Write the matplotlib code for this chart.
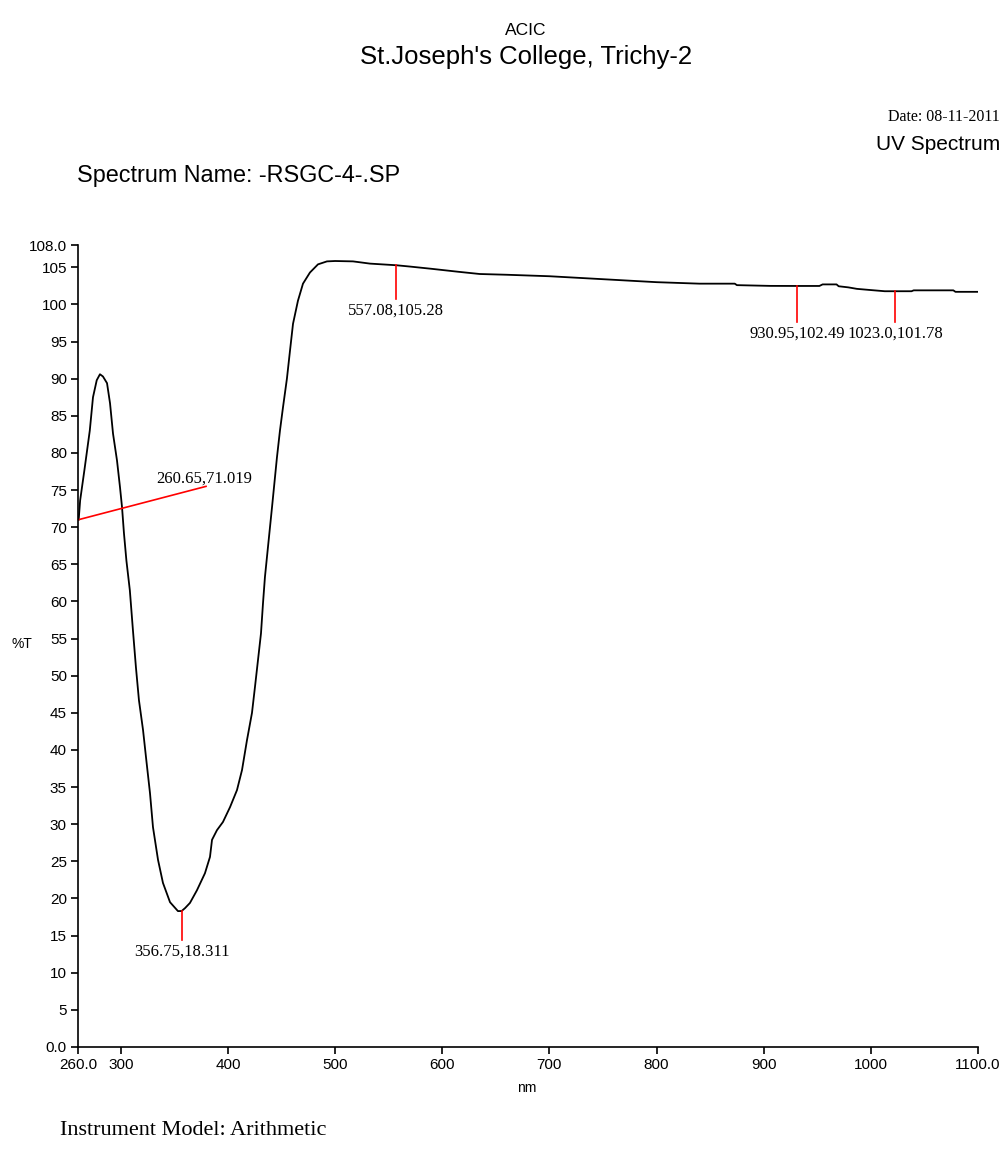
import matplotlib
matplotlib.use("Agg")
import matplotlib.pyplot as plt

# ---- data ----
wavelength = [260.65, 262, 266, 271, 274, 277.5, 280.5, 283.3, 287.1, 289.9, 292.7, 296.4, 299.2,
              301.1, 302.9, 305.2, 308.4, 311.3, 314.1, 316.9, 320.7, 323.8, 327.2, 330, 334.7,
              339.3, 345.9, 353.3, 356.75, 359.9, 364.5, 371, 378.5, 383.2, 385.1, 389.7, 395.3,
              401.9, 408.4, 413.1, 417.7, 422.4, 425.2, 428, 430.8, 432.7, 434.5, 437.3, 441.1,
              445.7, 448.5, 451.3, 455, 457.9, 460.7, 465.3, 470, 476.5, 484, 492.4, 500, 516.7,
              532.5, 557.08, 570, 590, 615, 635, 660, 700, 750, 800, 840, 873, 875, 906, 930.95,
              952, 955, 968, 970, 979, 987, 999, 1013, 1023, 1038, 1040, 1077, 1079, 1100]
transmittance = [71.02, 73.6, 77.7, 83.0, 87.5, 89.8, 90.6, 90.3, 89.4, 86.7, 82.6, 79.0, 75.4,
                 72.7, 69.2, 65.5, 61.5, 56.1, 51.1, 46.7, 42.7, 38.6, 34.2, 29.6, 25.2,
                 22.1, 19.5, 18.3, 18.311, 18.7, 19.4, 21.1, 23.4, 25.6, 27.9, 29.2, 30.3,
                 32.3, 34.6, 37.3, 41.3, 45.0, 48.5, 52.1, 55.7, 59.8, 63.3, 67.3, 72.7,
                 79.4, 83.0, 86.1, 90.0, 93.8, 97.4, 100.5, 102.8, 104.3, 105.4, 105.8, 105.85, 105.8,
                 105.5, 105.28, 105.1, 104.8, 104.4, 104.1, 104.0, 103.8, 103.4, 103.0, 102.8, 102.8, 102.6,
                 102.5, 102.49, 102.49, 102.7, 102.7, 102.45, 102.3, 102.1, 101.95, 101.78, 101.78,
                 101.78, 101.9, 101.9, 101.7, 101.7]

peak_x = [557.08, 930.95, 1023.0]
peak_y = [105.28, 102.49, 101.78]
peak_line_end = [100.7, 97.6, 97.6]
peak_labels = ["557.08,105.28", "930.95,102.49", "1023.0,101.78"]
valley_x = [356.75]
valley_y = [18.311]
valley_labels = ["356.75,18.311"]
start_x, start_y, start_label = 260.65, 71.019, "260.65,71.019"

xticks = [260, 300, 400, 500, 600, 700, 800, 900, 1000, 1100]
xticklabels = ["260.0", "300", "400", "500", "600", "700", "800", "900", "1000", "1100.0"]
yticks = [0, 5, 10, 15, 20, 25, 30, 35, 40, 45, 50, 55, 60, 65, 70, 75, 80, 85, 90, 95, 100, 105, 108]
yticklabels = ["0.0"] + [str(v) for v in yticks[1:-1]] + ["108.0"]

SANS = "Liberation Sans"
SERIF = "Liberation Serif"

fig = plt.figure(figsize=(10.05, 11.68), dpi=100)
ax = fig.add_axes([0.0776, 0.1036, 0.8955, 0.6866])

ax.plot(wavelength, transmittance, color="black", lw=1.3)
ax.set_xlim(260, 1100)
ax.set_ylim(0, 108)

for s in ["top", "right"]:
    ax.spines[s].set_visible(False)
for s in ["left", "bottom"]:
    ax.spines[s].set_linewidth(1.2)
ax.set_xticks(xticks)
ax.set_xticklabels(xticklabels, fontfamily=SANS, fontsize=11)
ax.set_yticks(yticks)
ax.set_yticklabels(yticklabels, fontfamily=SANS, fontsize=11)
ax.tick_params(direction="out", length=5, width=1.2, pad=3)

# start annotation
ax.plot([start_x, 379.5], [start_y, 75.5], color="red", lw=1.2, clip_on=False)
ax.text(377.5, 75.5, start_label, ha="center", va="bottom", fontfamily=SERIF, fontsize=12)

# valley annotation
for x, y, lab in zip(valley_x, valley_y, valley_labels):
    ax.plot([x, x], [y, y - 3.9], color="red", lw=1.2)
    ax.text(x, y - 4.4, lab, ha="center", va="top", fontfamily=SERIF, fontsize=12)

# peak annotations
for x, y, ye, lab in zip(peak_x, peak_y, peak_line_end, peak_labels):
    ax.plot([x, x], [y, ye], color="red", lw=1.2)
    ax.text(x, ye - 0.5, lab, ha="center", va="top", fontfamily=SERIF, fontsize=12)

fig.text(0.523, 0.974, "ACIC", ha="center", va="center", fontfamily=SANS, fontsize=12.5)
fig.text(0.523, 0.951, "St.Joseph's College, Trichy-2", ha="center", va="center", fontfamily=SANS, fontsize=18.5)
fig.text(0.995, 0.900, "Date: 08-11-2011", ha="right", va="center", fontfamily=SERIF, fontsize=11.5)
fig.text(0.995, 0.876, "UV Spectrum", ha="right", va="center", fontfamily=SANS, fontsize=15)
fig.text(0.0766, 0.850, "Spectrum Name: -RSGC-4-.SP", ha="left", va="center", fontfamily=SANS, fontsize=16.8)
fig.text(0.022, 0.449, "%T", ha="center", va="center", fontfamily=SANS, fontsize=10)
fig.text(0.524, 0.0685, "nm", ha="center", va="center", fontfamily=SANS, fontsize=10)
fig.text(0.06, 0.0325, "Instrument Model: Arithmetic", ha="left", va="center", fontfamily=SERIF, fontsize=16)

fig.savefig("out.png", dpi=100)
